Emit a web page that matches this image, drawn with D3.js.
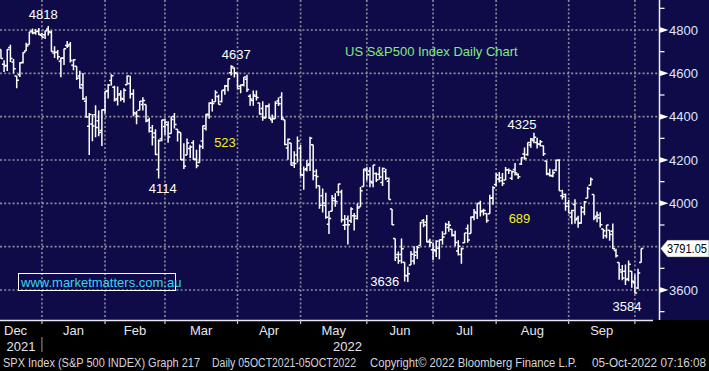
<!DOCTYPE html>
<html>
<head>
<meta charset="utf-8">
<script src="https://cdn.jsdelivr.net/npm/d3@7"></script>
<style>
  body { margin: 0; background: #000; }
  svg { display: block; font-family: "Liberation Sans", Arial, sans-serif; }
</style>
</head>
<body>
<svg width="709" height="371"></svg>
<script>
// SPX daily bars (Dec 2021 - Oct 2022)
const dates = [
  "2021-12-10","2021-12-13","2021-12-14","2021-12-15","2021-12-16","2021-12-17","2021-12-20","2021-12-21","2021-12-22","2021-12-23","2021-12-27","2021-12-28","2021-12-29","2021-12-30","2021-12-31",
  "2022-01-03","2022-01-04","2022-01-05","2022-01-06","2022-01-07","2022-01-10","2022-01-11","2022-01-12","2022-01-13","2022-01-14","2022-01-18","2022-01-19","2022-01-20","2022-01-21","2022-01-24","2022-01-25","2022-01-26","2022-01-27","2022-01-28","2022-01-31",
  "2022-02-01","2022-02-02","2022-02-03","2022-02-04","2022-02-07","2022-02-08","2022-02-09","2022-02-10","2022-02-11","2022-02-14","2022-02-15","2022-02-16","2022-02-17","2022-02-18","2022-02-22","2022-02-23","2022-02-24","2022-02-25","2022-02-28",
  "2022-03-01","2022-03-02","2022-03-03","2022-03-04","2022-03-07","2022-03-08","2022-03-09","2022-03-10","2022-03-11","2022-03-14","2022-03-15","2022-03-16","2022-03-17","2022-03-18","2022-03-21","2022-03-22","2022-03-23","2022-03-24","2022-03-25","2022-03-28","2022-03-29","2022-03-30","2022-03-31",
  "2022-04-01","2022-04-04","2022-04-05","2022-04-06","2022-04-07","2022-04-08","2022-04-11","2022-04-12","2022-04-13","2022-04-14","2022-04-18","2022-04-19","2022-04-20","2022-04-21","2022-04-22","2022-04-25","2022-04-26","2022-04-27","2022-04-28","2022-04-29",
  "2022-05-02","2022-05-03","2022-05-04","2022-05-05","2022-05-06","2022-05-09","2022-05-10","2022-05-11","2022-05-12","2022-05-13","2022-05-16","2022-05-17","2022-05-18","2022-05-19","2022-05-20","2022-05-23","2022-05-24","2022-05-25","2022-05-26","2022-05-27","2022-05-31",
  "2022-06-01","2022-06-02","2022-06-03","2022-06-06","2022-06-07","2022-06-08","2022-06-09","2022-06-10","2022-06-13","2022-06-14","2022-06-15","2022-06-16","2022-06-17","2022-06-21","2022-06-22","2022-06-23","2022-06-24","2022-06-27","2022-06-28","2022-06-29","2022-06-30",
  "2022-07-01","2022-07-05","2022-07-06","2022-07-07","2022-07-08","2022-07-11","2022-07-12","2022-07-13","2022-07-14","2022-07-15","2022-07-18","2022-07-19","2022-07-20","2022-07-21","2022-07-22","2022-07-25","2022-07-26","2022-07-27","2022-07-28","2022-07-29",
  "2022-08-01","2022-08-02","2022-08-03","2022-08-04","2022-08-05","2022-08-08","2022-08-09","2022-08-10","2022-08-11","2022-08-12","2022-08-15","2022-08-16","2022-08-17","2022-08-18","2022-08-19","2022-08-22","2022-08-23","2022-08-24","2022-08-25","2022-08-26","2022-08-29","2022-08-30","2022-08-31",
  "2022-09-01","2022-09-02","2022-09-06","2022-09-07","2022-09-08","2022-09-09","2022-09-12","2022-09-13","2022-09-14","2022-09-15","2022-09-16","2022-09-19","2022-09-20","2022-09-21","2022-09-22","2022-09-23","2022-09-26","2022-09-27","2022-09-28","2022-09-29","2022-09-30",
  "2022-10-03","2022-10-04"
];

const opens = [
  4687.6,4710.3,4642.0,4636.5,4719.1,4652.5,4587.9,4594.0,4650.4,4703.1,4733.0,4795.5,4788.6,4794.2,4775.2,
  4778.1,4804.5,4787.9,4693.4,4697.7,4655.3,4669.1,4728.6,4733.6,4637.0,4632.2,4588.0,4547.4,4471.4,4356.3,4366.6,4408.4,4380.6,4336.2,4431.8,
  4519.6,4566.4,4535.4,4482.8,4505.8,4480.0,4547.0,4553.2,4506.3,4412.6,4429.3,4455.8,4456.1,4384.6,4332.7,4324.9,4155.8,4298.4,4354.2,
  4363.1,4322.6,4401.3,4342.1,4327.0,4202.7,4223.1,4252.6,4279.5,4202.8,4188.8,4288.1,4345.1,4407.3,4462.4,4469.1,4493.1,4469.9,4522.7,4541.1,4602.9,4624.2,4599.0,
  4540.3,4547.0,4572.5,4494.2,4474.7,4494.2,4462.6,4437.6,4394.3,4449.1,4385.6,4390.6,4472.3,4489.2,4385.8,4255.3,4278.1,4186.5,4222.6,4253.8,
  4130.6,4159.8,4181.2,4270.4,4128.2,4081.3,4035.2,3990.1,3903.9,3963.9,4013.0,4052.0,4052.0,3899.0,3927.8,3919.4,3942.9,3929.6,3984.6,4077.4,4151.1,
  4149.8,4095.4,4137.6,4134.7,4096.5,4147.1,4102.0,3974.4,3838.2,3763.5,3764.0,3728.2,3665.9,3715.3,3733.9,3774.7,3805.0,3920.8,3913.0,3825.1,3786.0,
  3781.0,3792.6,3832.0,3858.9,3888.3,3880.9,3852.0,3779.7,3764.0,3818.0,3883.8,3860.7,3935.3,3955.5,4000.5,3965.7,3953.2,3951.4,4026.1,4087.3,
  4112.4,4104.2,4108.0,4154.9,4115.9,4155.9,4133.1,4181.0,4227.4,4225.0,4269.4,4290.5,4280.4,4273.1,4266.3,4195.1,4133.1,4126.6,4153.3,4198.7,4034.6,4041.3,4000.7,
  3936.7,3994.7,3930.9,3909.4,3959.9,4022.9,4083.7,4041.2,3940.7,3932.4,3881.0,3849.9,3875.2,3871.4,3782.4,3727.1,3682.7,3686.4,3651.9,3687.0,3633.5,
  3609.8,3726.5
];

const highs = [
  4713.6,4710.3,4660.5,4712.6,4731.9,4666.7,4587.9,4651.1,4697.7,4740.7,4791.5,4807.0,4804.1,4808.9,4786.8,
  4796.6,4818.6,4797.7,4725.0,4707.9,4673.0,4714.1,4749.0,4744.1,4665.1,4632.2,4611.6,4602.1,4494.5,4417.4,4411.0,4453.2,4428.7,4432.7,4516.9,
  4550.5,4595.3,4542.9,4539.7,4521.9,4531.3,4590.0,4588.9,4526.3,4426.2,4472.8,4490.0,4456.1,4394.6,4362.1,4341.5,4294.7,4385.3,4388.8,
  4378.5,4401.5,4416.8,4342.1,4327.0,4276.9,4299.4,4268.3,4291.0,4247.6,4271.1,4358.0,4412.7,4465.4,4481.8,4522.0,4501.1,4520.6,4546.0,4575.7,4637.3,4627.8,4603.1,
  4548.7,4583.5,4593.5,4503.9,4521.2,4520.4,4464.4,4471.0,4453.9,4460.5,4410.3,4471.0,4488.3,4512.9,4385.8,4299.0,4278.1,4240.7,4308.5,4269.7,
  4169.8,4200.1,4307.7,4270.4,4157.7,4081.3,4068.8,4049.1,3964.8,4038.9,4046.5,4090.7,4062.5,3946.0,3943.4,3981.9,3955.7,3999.3,4075.1,4158.5,4168.3,
  4166.5,4177.5,4142.7,4168.8,4164.9,4160.1,4119.1,3974.4,3838.2,3778.2,3837.6,3728.2,3707.7,3779.7,3801.8,3802.6,3913.7,3927.7,3945.9,3836.5,3819.0,
  3829.8,3832.2,3870.9,3910.6,3918.5,3880.9,3873.4,3829.4,3796.4,3863.6,3902.4,3939.8,3974.1,3999.3,4012.4,3975.3,3953.2,4039.6,4078.9,4140.2,
  4144.9,4140.5,4167.7,4161.3,4151.6,4186.6,4137.3,4211.0,4257.9,4280.5,4301.8,4325.3,4302.2,4292.5,4266.3,4195.1,4159.8,4156.6,4200.5,4203.0,4063.0,4045.0,4015.4,
  3970.2,4018.4,3942.6,3987.9,4010.5,4076.8,4119.3,4041.2,3961.9,3959.1,3881.0,3900.5,3876.0,3907.1,3790.2,3727.1,3715.7,3717.5,3736.7,3687.0,3671.4,
  3698.4,3791.9
];

const lows = [
  4670.2,4667.6,4606.5,4611.2,4651.9,4600.2,4531.1,4583.2,4645.5,4703.1,4733.0,4780.0,4778.1,4775.3,4765.8,
  4758.2,4774.3,4699.4,4671.3,4662.7,4582.2,4638.3,4717.2,4650.3,4614.8,4568.7,4530.2,4477.0,4395.3,4222.6,4287.1,4304.8,4309.5,4264.7,4414.0,
  4484.0,4544.3,4470.4,4451.5,4471.5,4465.4,4547.0,4484.3,4401.4,4364.8,4429.3,4429.0,4373.8,4327.2,4267.1,4221.5,4114.7,4286.8,4315.1,
  4279.5,4322.6,4345.6,4284.9,4199.9,4157.9,4223.1,4209.8,4200.5,4161.7,4187.9,4251.0,4335.7,4390.6,4424.3,4469.1,4455.8,4465.2,4501.1,4517.7,4589.7,4581.3,4530.4,
  4507.6,4539.2,4514.2,4450.0,4450.3,4474.6,4408.4,4381.3,4392.7,4390.8,4370.3,4390.6,4448.8,4384.5,4267.6,4200.8,4175.0,4162.9,4188.6,4124.3,
  4062.5,4147.1,4148.9,4106.0,4067.9,3975.5,3958.2,3928.8,3858.9,3963.9,3984.0,4033.9,3911.9,3876.6,3810.3,3909.0,3875.1,3925.0,3984.6,4077.4,4104.9,
  4073.9,4074.4,4098.7,4109.2,4080.2,4107.2,4017.2,3900.2,3734.3,3721.6,3722.3,3639.8,3636.9,3715.3,3717.7,3743.5,3805.0,3889.7,3820.1,3799.0,3738.7,
  3752.1,3742.1,3809.4,3858.9,3869.3,3847.2,3802.4,3759.1,3721.6,3817.2,3818.6,3860.7,3922.0,3927.6,3938.8,3943.5,3910.7,3951.4,3993.0,4079.2,
  4096.0,4079.8,4108.0,4135.4,4107.3,4129.0,4112.1,4177.3,4201.4,4219.8,4256.9,4277.8,4253.1,4262.0,4218.7,4129.9,4124.0,4120.0,4147.6,4057.7,4017.4,3965.2,3954.5,
  3903.7,3906.2,3886.8,3906.0,3944.8,4022.9,4083.7,3921.7,3912.6,3888.3,3837.1,3838.5,3827.5,3789.5,3749.5,3647.5,3644.8,3623.3,3640.6,3610.4,3584.1,
  3604.9,3726.5
];

const closes = [
  4712.0,4669.0,4634.1,4709.9,4668.7,4620.6,4568.0,4649.2,4696.6,4725.8,4791.2,4786.4,4793.1,4778.7,4766.2,
  4796.6,4793.5,4700.6,4696.1,4677.0,4670.3,4713.1,4726.4,4659.0,4662.9,4577.1,4532.8,4482.7,4397.9,4410.1,4356.5,4349.9,4326.5,4431.9,4515.6,
  4546.5,4589.4,4477.4,4500.5,4483.9,4521.5,4587.2,4504.1,4418.6,4401.7,4471.1,4475.0,4380.3,4348.9,4304.8,4225.5,4288.7,4384.7,4373.9,
  4306.3,4386.5,4363.5,4328.9,4201.1,4170.7,4277.9,4259.5,4204.3,4173.1,4262.5,4357.9,4411.7,4463.1,4461.2,4511.6,4456.2,4520.2,4543.1,4575.5,4631.6,4602.5,4530.4,
  4545.9,4582.6,4525.1,4481.2,4500.2,4488.3,4412.5,4397.5,4446.6,4392.6,4391.7,4462.2,4459.5,4393.7,4271.8,4296.1,4175.2,4184.0,4287.5,4131.9,
  4155.4,4175.5,4300.2,4146.9,4123.3,3991.2,4001.1,3935.2,3930.1,4023.9,4008.0,4088.9,3923.7,3900.8,3901.4,3973.8,3941.5,3978.7,4057.8,4158.2,4132.2,
  4101.2,4176.8,4108.5,4121.4,4160.7,4115.8,4017.8,3900.9,3749.6,3735.5,3790.0,3666.8,3674.8,3764.8,3759.9,3795.7,3911.7,3900.1,3821.6,3818.8,3785.4,
  3825.3,3831.4,3845.1,3902.6,3899.4,3854.4,3818.8,3801.8,3790.4,3863.2,3830.9,3936.7,3959.9,3999.0,3961.6,3966.8,3921.1,4023.6,4072.4,4130.3,
  4118.6,4091.2,4155.2,4151.9,4145.2,4140.1,4122.5,4210.2,4207.3,4280.2,4297.1,4305.2,4274.0,4283.7,4228.5,4138.0,4128.7,4140.8,4199.1,4057.7,4030.6,3986.2,3955.0,
  3966.9,3924.3,3908.2,3979.9,4006.2,4067.4,4110.4,3932.7,3946.0,3901.4,3873.3,3899.9,3855.9,3789.9,3758.0,3693.2,3655.0,3647.3,3719.0,3640.5,3585.6,
  3678.4,3791.05
];

const priceTicks = [4800, 4600, 4400, 4200, 4000, 3800, 3600];
const minorTicks = [4900, 4700, 4500, 4300, 4100, 3900, 3700, 3500];
const monthNames = ["Dec", "Jan", "Feb", "Mar", "Apr", "May", "Jun", "Jul", "Aug", "Sep", "Oct"];
const lastPrice = 3791.05;

// swing high / low call-outs
const swingDates = ["2022-01-04", "2022-03-29", "2022-02-24", "2022-06-17", "2022-08-16", "2022-09-30"];
const swingValues = [4818, 4637, 4114, 3636, 4325, 3584];
const moveLabels = ["523", "689"];

const footer = [
  "SPX Index (S&P 500 INDEX) Graph 217",
  "Daily 05OCT2021-05OCT2022",
  "Copyright\u00A9 2022 Bloomberg Finance L.P.",
  "05-Oct-2022 07:16:08"
];

const svg = d3.select("svg");
const W = 709, H = 371;
const plotBottom = 320, axisX = 659.5;

svg.append("rect").attr("width", W).attr("height", H).attr("fill", "#000");
svg.append("rect").attr("width", W).attr("height", plotBottom).attr("fill", "#0e0b48");

// scales: one slot per trading session
const iJan3 = dates.indexOf("2022-01-03");
const iSep30 = dates.indexOf("2022-09-30");
const x = d3.scaleLinear().domain([iJan3, iSep30]).range([45.1, 634.9]);
const y = d3.scaleLinear().domain([3600, 4800]).range([290, 30]);

const parse = d3.timeParse("%Y-%m-%d");
const parsed = dates.map(parse);

// month boundaries: grid sits on last session of the previous month
const boundaries = [];
for (let i = 1; i < parsed.length; i++) {
  if (parsed[i].getMonth() !== parsed[i - 1].getMonth()) boundaries.push(i - 1);
}
const bx = boundaries.map(i => x(i));

const grid = svg.append("g")
  .attr("stroke", "#8e8e9a")
  .attr("stroke-width", 1.6)
  .attr("stroke-dasharray", "2,2.2");

grid.selectAll(".hg").data(priceTicks).enter().append("line")
  .attr("x1", 0).attr("x2", axisX - 1)
  .attr("y1", d => y(d)).attr("y2", d => y(d));

grid.selectAll(".vg").data(bx).enter().append("line")
  .attr("x1", d => d).attr("x2", d => d)
  .attr("y1", 0).attr("y2", plotBottom);

// OHLC bars
svg.append("clipPath").attr("id", "plotclip")
  .append("rect").attr("width", axisX).attr("height", plotBottom);

svg.append("g").attr("clip-path", "url(#plotclip)")
  .selectAll("path").data(dates).enter().append("path")
  .attr("fill", "none")
  .attr("stroke", "#fff")
  .attr("stroke-width", 1.5)
  .attr("d", (d, i) => {
    const cx = x(i);
    return `M${cx - 2.2},${y(opens[i])}H${cx}` +
           `M${cx},${y(highs[i])}V${y(lows[i])}` +
           `M${cx},${y(closes[i])}H${cx + 2.2}`;
  });

// bottom axis
svg.append("line")
  .attr("x1", 0).attr("x2", 653)
  .attr("y1", plotBottom + 0.5).attr("y2", plotBottom + 0.5)
  .attr("stroke", "#e8e8f0").attr("stroke-width", 1.5);

svg.selectAll(".mt").data(bx).enter().append("line")
  .attr("x1", d => d).attr("x2", d => d)
  .attr("y1", plotBottom).attr("y2", plotBottom + 4)
  .attr("stroke", "#c8c8d0").attr("stroke-width", 1.2);

const monthEdges = [0].concat(bx);
const textColor = "#e4e4f0";
monthNames.forEach((m, k) => {
  if (k >= monthEdges.length - 1) return;
  const a = monthEdges[k], b = monthEdges[k + 1];
  const lbl = svg.append("text")
    .attr("y", 335)
    .attr("font-size", 13)
    .attr("fill", textColor)
    .text(m);
  if (k === 0) lbl.attr("x", 4);
  else lbl.attr("x", (a + b) / 2).attr("text-anchor", "middle");
});

// years
svg.append("text").attr("x", bx[0] / 2).attr("y", 351)
  .attr("text-anchor", "middle").attr("font-size", 13).attr("fill", textColor).text("2021");
svg.append("text").attr("x", (bx[0] + 653) / 2).attr("y", 351)
  .attr("text-anchor", "middle").attr("font-size", 13).attr("fill", textColor).text("2022");
svg.append("line")
  .attr("x1", bx[0]).attr("x2", bx[0]).attr("y1", 337).attr("y2", 352)
  .attr("stroke", "#9a9a9a").attr("stroke-width", 1);

// right axis
svg.append("line")
  .attr("x1", axisX).attr("x2", axisX).attr("y1", 0).attr("y2", plotBottom)
  .attr("stroke", "#f0f0f8").attr("stroke-width", 1.5);

svg.selectAll(".minor").data(minorTicks).enter().append("line")
  .attr("x1", axisX).attr("x2", axisX + 5)
  .attr("y1", d => y(d)).attr("y2", d => y(d))
  .attr("stroke", "#f0f0f8").attr("stroke-width", 1.3);

const shownTicks = priceTicks.filter(v => Math.abs(y(v) - y(lastPrice)) > 10);
svg.selectAll(".tri").data(shownTicks).enter().append("path")
  .attr("fill", "#fff")
  .attr("d", d => `M${axisX},${y(d) - 3}L${axisX + 9},${y(d)}L${axisX},${y(d) + 3}Z`);

svg.selectAll(".tl").data(shownTicks).enter().append("text")
  .attr("x", 669).attr("y", d => y(d)).attr("dy", "0.36em")
  .attr("font-size", 13).attr("fill", "#dfe6ff")
  .text(d => d);

// last price flag
const ly = y(lastPrice);
svg.append("path")
  .attr("fill", "#fff").attr("stroke", "#444").attr("stroke-width", 0.5)
  .attr("d", `M${axisX + 1},${ly}L${axisX + 8},${ly - 8.5}H${W}V${ly + 8.5}H${axisX + 8}Z`);
svg.append("text")
  .attr("x", 667).attr("y", ly).attr("dy", "0.36em")
  .attr("font-size", 12).attr("fill", "#000")
  .attr("textLength", 40).attr("lengthAdjust", "spacingAndGlyphs")
  .text(lastPrice.toFixed(2));

// swing call-outs
const swingOffsets = [[-5, -7], [5, -6], [4, 14.5], [-23, 3.5], [-12, -4], [-8, 17.5]];
swingValues.forEach((v, k) => {
  const i = dates.indexOf(swingDates[k]);
  svg.append("text")
    .attr("x", x(i) + swingOffsets[k][0])
    .attr("y", y(v) + swingOffsets[k][1])
    .attr("text-anchor", "middle")
    .attr("font-size", 13).attr("fill", "#fff")
    .text(v);
});

// points moved between swings
const moveSpots = [[225, 147], [519.5, 223]];
moveLabels.forEach((t, k) => {
  svg.append("text")
    .attr("x", moveSpots[k][0]).attr("y", moveSpots[k][1])
    .attr("text-anchor", "middle")
    .attr("font-size", 13).attr("fill", "#f2f21e")
    .text(t);
});

svg.append("text")
  .attr("x", 345).attr("y", 56)
  .attr("font-size", 13).attr("fill", "#84e884")
  .text("US S&P500 Index Daily Chart");

// watermark
svg.append("rect")
  .attr("x", 18.5).attr("y", 273.5).attr("width", 157).attr("height", 17)
  .attr("fill", "none").attr("stroke", "#fff").attr("stroke-width", 1);
svg.append("text")
  .attr("x", 21).attr("y", 286.5)
  .attr("font-size", 13).attr("fill", "#3cd2f2")
  .text("www.marketmatters.com.au");

// footer line
const footX = [3, 212, 370, 592];
const footLen = [197, 144, 207, 114];
footer.forEach((t, k) => {
  svg.append("text")
    .attr("x", footX[k]).attr("y", 367)
    .attr("font-size", 12).attr("fill", "#d4d4dc")
    .attr("textLength", footLen[k]).attr("lengthAdjust", "spacingAndGlyphs")
    .text(t);
});
</script>
</body>
</html>
